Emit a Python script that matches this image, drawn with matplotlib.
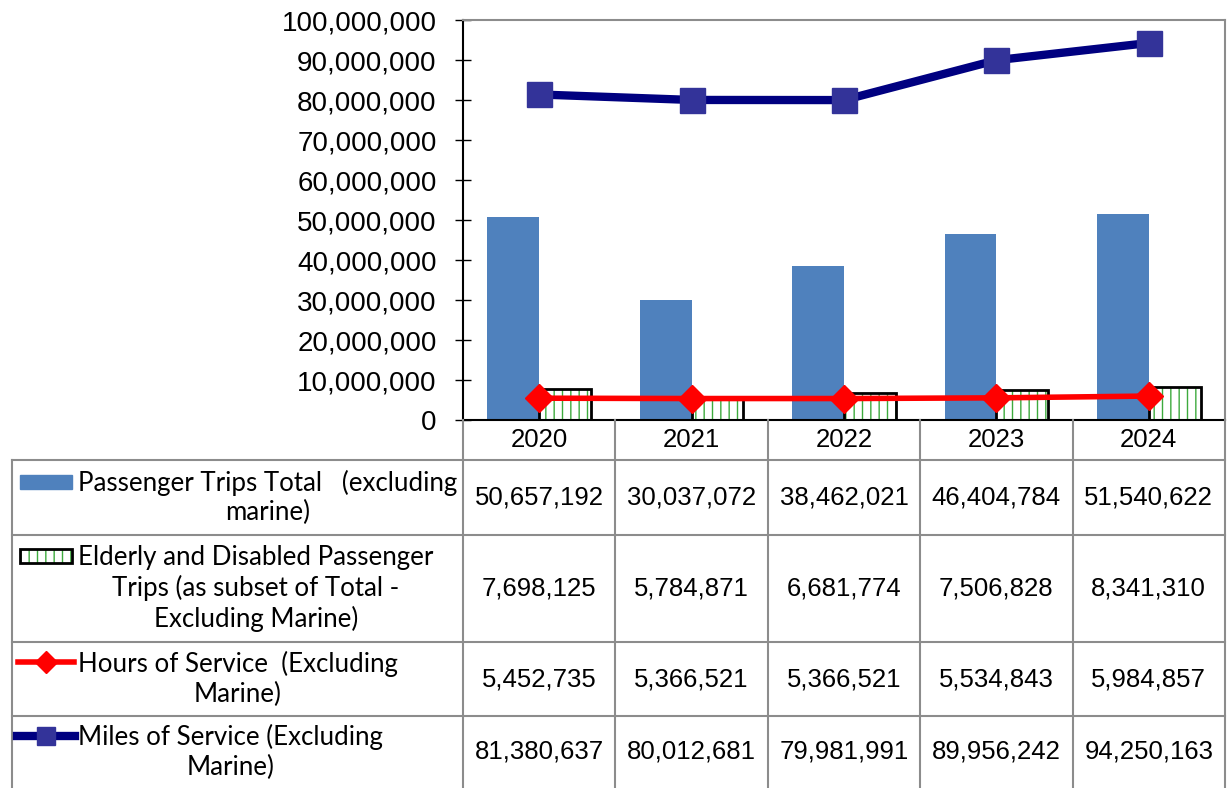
import matplotlib
matplotlib.use("Agg")
from matplotlib import pyplot as plt
from matplotlib.patches import Rectangle
from matplotlib.lines import Line2D
from matplotlib.ticker import FuncFormatter
import numpy as np

years = ["2020", "2021", "2022", "2023", "2024"]
passenger_trips = [50657192, 30037072, 38462021, 46404784, 51540622]
elderly_trips = [7698125, 5784871, 6681774, 7506828, 8341310]
hours_service = [5452735, 5366521, 5366521, 5534843, 5984857]
miles_service = [81380637, 80012681, 79981991, 89956242, 94250163]
row_labels = [
    "Passenger Trips Total   (excluding\nmarine)",
    "Elderly and Disabled Passenger\nTrips (as subset of Total -\nExcluding Marine)",
    "Hours of Service  (Excluding\nMarine)",
    "Miles of Service (Excluding\nMarine)",
]

BLUE = "#4F81BD"
GREEN = "#3DAA3D"
RED = "#FF0000"
NAVY = "#000080"
SQ = "#333399"
GRID = "#8C8C8C"

W, H = 1231, 788
fig = plt.figure(figsize=(W / 100, H / 100), dpi=100)

# main plot area, in pixels
x0, x1, y0, y1 = 463, 1225, 20, 420
ax = fig.add_axes([x0 / W, 1 - y1 / H, (x1 - x0) / W, (y1 - y0) / H])

x = np.arange(len(years))
bw = 0.34
ax.bar(x - bw / 2, passenger_trips, bw, color=BLUE, zorder=2)
ax.bar(x + bw / 2, elderly_trips, bw, color="white", edgecolor=GREEN,
       hatch="||", linewidth=0, zorder=2)
ax.bar(x + bw / 2, elderly_trips, bw, color="none", edgecolor="black",
       linewidth=2, zorder=3)
ax.plot(x, hours_service, color=RED, lw=4, marker="D", ms=14,
        markerfacecolor=RED, markeredgecolor=RED, zorder=4)
ax.plot(x, miles_service, color=NAVY, lw=6, marker="s", ms=18,
        markerfacecolor=SQ, markeredgecolor=SQ, zorder=4)

ax.set_xlim(-0.5, len(years) - 0.5)
ax.set_ylim(0, 100000000)
ax.set_yticks(np.arange(0, 100000001, 10000000))
ax.yaxis.set_major_formatter(FuncFormatter(lambda v, p: f"{int(v):,}"))
ax.set_xticks([])
ax.tick_params(axis="y", direction="inout", length=12, width=1,
               labelsize=20, pad=13)
for lab in ax.get_yticklabels():
    lab.set_fontfamily("Liberation Sans")
ax.spines["left"].set_color("black")
ax.spines["left"].set_linewidth(1.5)
ax.spines["bottom"].set_color("black")
ax.spines["bottom"].set_linewidth(1.5)
ax.spines["top"].set_color(GRID)
ax.spines["right"].set_color(GRID)
ax.spines["top"].set_linewidth(1.5)
ax.spines["right"].set_linewidth(1.5)

# table below, drawn on an overlay in pixel coordinates
tab = fig.add_axes([0, 0, 1, 1])
tab.set_xlim(0, W)
tab.set_ylim(H, 0)
tab.axis("off")

col_edges = np.linspace(x0, x1, len(years) + 1)
row_edges = [460, 535, 642, 716, 788]
lbl_left = 12

for cx in col_edges:
    tab.plot([cx, cx], [y1, H], color=GRID, lw=1.5)
tab.plot([lbl_left, lbl_left], [row_edges[0], H], color=GRID, lw=1.5)
for ry in row_edges[:-1]:
    tab.plot([lbl_left, x1], [ry, ry], color=GRID, lw=1.5)

centers = (col_edges[:-1] + col_edges[1:]) / 2
for cx, yr in zip(centers, years):
    tab.text(cx, 440, yr, ha="center", va="center", fontsize=18.5,
             family="Liberation Sans")

series = [passenger_trips, elderly_trips, hours_service, miles_service]
for i, vals in enumerate(series):
    cy = (row_edges[i] + row_edges[i + 1]) / 2
    for cx, v in zip(centers, vals):
        tab.text(cx, cy, f"{v:,}", ha="center", va="center", fontsize=18.5,
                 family="Liberation Sans")
    tab.text(78, cy, row_labels[i], ha="left", va="center",
             multialignment="center", fontsize=18.6, family="Lato",
             linespacing=1.22)

# legend keys
tab.add_patch(Rectangle((20, 475), 52, 14, color=BLUE))
tab.add_patch(Rectangle((20, 549), 52, 14, facecolor="white",
                        edgecolor=GREEN, hatch="||", lw=0))
tab.add_patch(Rectangle((20, 549), 52, 14, facecolor="none",
                        edgecolor="black", lw=2))
tab.add_line(Line2D([18, 74], [662, 662], color=RED, lw=4))
tab.add_line(Line2D([46], [662], color=RED, marker="D", ms=11, lw=0))
tab.add_line(Line2D([17, 75], [736, 736], color=NAVY, lw=6))
tab.add_line(Line2D([46], [736], color=SQ, marker="s", ms=13, lw=0))

plt.savefig("out.png", dpi=100)
